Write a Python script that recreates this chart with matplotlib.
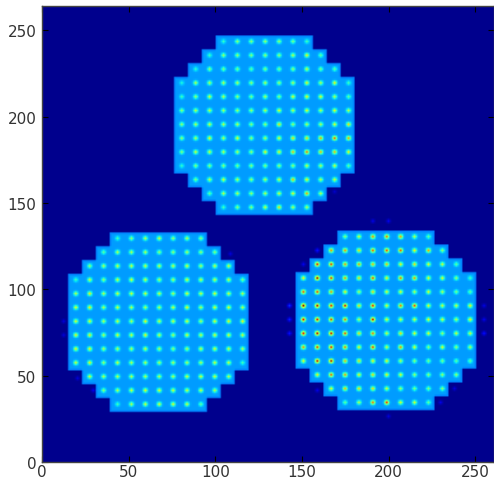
import numpy as np
import matplotlib
matplotlib.use("Agg")
import matplotlib.pyplot as plt

tick_values = [0, 50, 100, 150, 200, 250]

# lower-left corner of each disc (data units)
disc_origins = {"top": (76, 143.5), "left": (15, 29), "right": (146.5, 30)}

# peak intensity of each spot, rows listed from top to bottom
spots_top = [
    [.40,.50,.50,.52,.52,.48,.42],
    [.42,.52,.52,.50,.52,.52,.56,.62,.45],
    [.40,.50,.48,.48,.45,.50,.48,.52,.58,.48,.45],
    [.38,.55,.55,.55,.55,.52,.55,.53,.55,.62,.55,.62,.42],
    [.42,.52,.58,.55,.52,.48,.55,.50,.60,.62,.60,.55,.45],
    [.50,.55,.55,.52,.52,.52,.55,.60,.55,.60,.55,.60,.55],
    [.52,.55,.58,.55,.55,.50,.52,.65,.52,.55,.55,.60,.65],
    [.52,.55,.62,.55,.60,.52,.55,.60,.65,.65,.70,.78,.70],
    [.50,.58,.58,.55,.55,.52,.62,.62,.68,.75,.68,.68,.62],
    [.40,.50,.50,.50,.48,.50,.50,.52,.52,.58,.55,.58,.45],
    [.48,.55,.58,.55,.52,.55,.58,.68,.62,.55,.58],
    [.45,.55,.55,.52,.55,.58,.60,.70,.55],
    [.42,.50,.50,.58,.65,.55,.55],
]
spots_left = [
    [.42,.50,.55,.58,.52,.55,.50],
    [.45,.55,.55,.55,.52,.52,.55,.52,.50],
    [.52,.55,.58,.58,.58,.58,.58,.60,.55,.58,.58],
    [.42,.58,.52,.58,.60,.58,.55,.55,.60,.58,.58,.58,.48],
    [.55,.63,.55,.58,.58,.58,.58,.55,.60,.58,.60,.58,.55],
    [.60,.63,.55,.58,.55,.55,.55,.58,.62,.55,.60,.60,.55],
    [.60,.60,.55,.58,.55,.62,.58,.58,.60,.55,.60,.62,.62],
    [.62,.63,.55,.60,.58,.62,.58,.55,.60,.58,.60,.60,.58],
    [.62,.62,.55,.55,.55,.58,.55,.52,.55,.58,.60,.58,.55],
    [.58,.62,.52,.58,.55,.55,.55,.55,.55,.55,.58,.58,.42],
    [.58,.55,.55,.55,.55,.55,.55,.58,.58,.58,.55],
    [.50,.55,.58,.60,.60,.58,.58,.58,.55],
    [.42,.55,.58,.60,.60,.58,.45],
]
spots_right = [
    [.50,.58,.72,.75,.70,.55,.45],
    [.72,.72,.65,.78,.80,.78,.62,.70,.50],
    [.85,.82,.72,.72,.68,.68,.62,.65,.60,.58,.45],
    [.62,.92,.82,.72,.65,.80,.62,.75,.72,.60,.60,.52,.42],
    [.78,.80,.72,.62,.55,.65,.60,.60,.55,.60,.55,.48,.45],
    [.95,.90,.85,.88,.65,.85,.60,.75,.80,.60,.58,.58,.62],
    [.85,.85,.80,.75,.55,.88,.60,.58,.58,.60,.58,.55,.62],
    [.85,.90,.88,.80,.65,.75,.58,.65,.60,.60,.52,.58,.58],
    [.72,.82,.85,.75,.62,.82,.58,.72,.60,.50,.60,.52,.55],
    [.60,.88,.90,.68,.65,.62,.62,.55,.50,.48,.48,.45,.45],
    [.62,.78,.72,.62,.65,.62,.60,.52,.50,.52,.52],
    [.60,.68,.65,.65,.58,.52,.48,.48,.50],
    [.45,.55,.75,.82,.58,.58,.45],
]
disc_spots = {"top": spots_top, "left": spots_left, "right": spots_right}

# faint spots outside the discs
stray_x = [142,142,142,158.6,150,254.5,254.5,254.5,199,190.4,199,158,229.6,237,29,20,12.7,12.7,108.5,168]
stray_y = [90,82,74,122,114.6,74,82,90,139.5,139.5,26,41.6,34.7,42,41,48.6,81,73,120,156]
stray_v = [.17,.15,.14,.14,.10,.14,.10,.09,.10,.09,.08,.09,.09,.08,.10,.08,.08,.08,.08,.07]

BACKGROUND = 0.012
PLATEAU = 0.28
RIM = 0.255
CELL = 8
N = 264
SIGMA = 0.8
PEAK_BOOST = 1.05

yy, xx = np.mgrid[0:N, 0:N] + 0.5
img = np.full((N, N), BACKGROUND, dtype=float)


def add_spot(image, cx, cy, peak, floor):
    cx, cy = np.floor(cx) + .5, np.floor(cy) + .5
    r2 = (xx - cx) ** 2 + (yy - cy) ** 2
    image += (peak - floor) * np.exp(-r2 / (2 * SIGMA ** 2))


for name, rows in disc_spots.items():
    x0, y0 = disc_origins[name]
    mask = np.zeros((N, N), dtype=bool)
    spots = []
    for i, row in enumerate(rows):
        ncell = len(row)
        start = (13 - ncell) // 2
        ylo = y0 + (12 - i) * CELL
        xlo = x0 + start * CELL
        mask |= (xx >= xlo) & (xx < xlo + ncell * CELL) & (yy >= ylo) & (yy < ylo + CELL)
        for j, peak in enumerate(row):
            spots.append((xlo + (j + .5) * CELL, ylo + CELL / 2, peak))
    inner = mask.copy()
    inner[1:-1, 1:-1] = (mask[1:-1, 1:-1] & mask[:-2, 1:-1] & mask[2:, 1:-1]
                         & mask[1:-1, :-2] & mask[1:-1, 2:])
    img[mask] = RIM
    img[inner] = PLATEAU
    for cx, cy, peak in spots:
        add_spot(img, cx, cy, peak * PEAK_BOOST, PLATEAU)

for sx, sy, sv in zip(stray_x, stray_y, stray_v):
    add_spot(img, sx, sy, sv, BACKGROUND)

W, H = 494, 481
fig = plt.figure(figsize=(W / 100, H / 100), dpi=100)
ax = fig.add_axes([42 / W, (H - 463) / H, (W - 42) / W, 456 / H])
ax.imshow(img, origin="lower", cmap="jet", vmin=0, vmax=1,
          extent=(0, N, 0, N), interpolation="bilinear", aspect="auto")
ax.set_xlim(0, 260.8)
ax.set_ylim(0, 264)
ax.set_xticks(tick_values)
ax.set_yticks(tick_values)
ax.tick_params(direction="in", length=4, width=0.8, color="black", top=True,
               right=True, labelsize=11, labelcolor="#333333")
ax.tick_params(axis="x", pad=1.5)
ax.tick_params(axis="y", pad=4)
for s in ax.spines.values():
    s.set_color("#444444")
    s.set_linewidth(1.0)
fig.savefig("out.png", dpi=100)
